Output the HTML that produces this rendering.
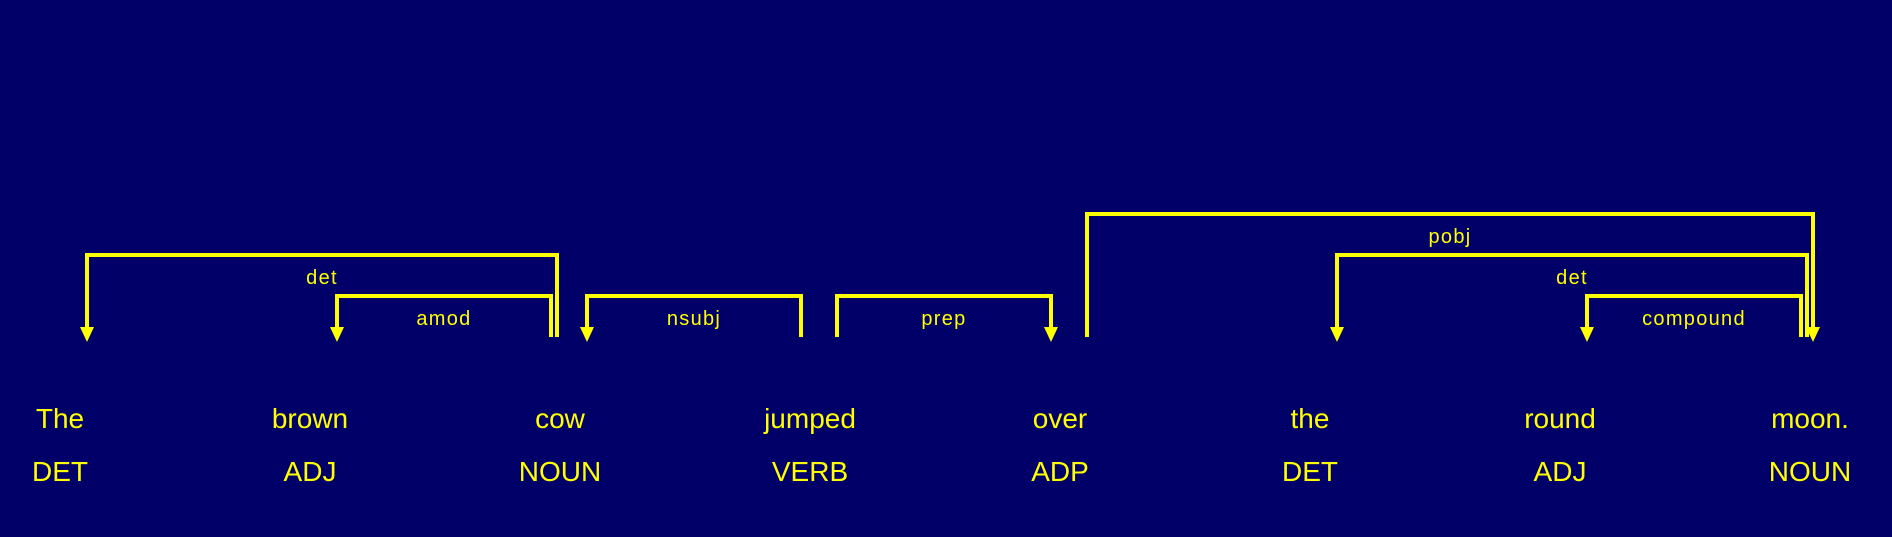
<!DOCTYPE html>
<html><head><meta charset="utf-8"><style>
html,body{margin:0;padding:0;background:#000068;}
svg{display:block;}
text{font-family:"Liberation Sans",Arial,sans-serif;fill:#ffff00;}
</style></head><body>
<svg id="chart" width="1892" height="537" viewBox="0 0 1892 537" xmlns="http://www.w3.org/2000/svg">
<rect width="1892" height="537" fill="#000068"/>
</svg>
<script>
const words = ["The","brown","cow","jumped","over","the","round","moon."];
const tags = ["DET","ADJ","NOUN","VERB","ADP","DET","ADJ","NOUN"];
const arcStart = [0,1,2,3,4,5,6];
const arcEnd = [2,2,3,4,7,7,7];
const arcLabel = ["det","amod","nsubj","prep","pobj","det","compound"];
const arcDir = ["left","left","left","right","right","left","left"];
const arcLevel = [2,1,1,1,3,2,1];

const svg = document.getElementById('chart');
const NS = "http://www.w3.org/2000/svg";
const xWord = i => 60 + 250*i;
const xArcL = i => 87 + 250*i;
const xArcR = (j,lvl) => 87 + 250*j - 36 + 6*(lvl-1);
const yBase = 337;
const yTop = lvl => 337 - 41*lvl;

words.forEach((w,i)=>{
  const t = document.createElementNS(NS,'text');
  t.setAttribute('x', xWord(i)); t.setAttribute('y', 428);
  t.setAttribute('text-anchor','middle'); t.setAttribute('font-size','28');
  t.textContent = w;
  
  
  svg.appendChild(t);
  const p = document.createElementNS(NS,'text');
  p.setAttribute('x', xWord(i)); p.setAttribute('y', 481);
  p.setAttribute('text-anchor','middle'); p.setAttribute('font-size','28');
  p.textContent = tags[i];
  
  
  svg.appendChild(p);
});

arcLabel.forEach((lab,k)=>{
  const lvl = arcLevel[k];
  const x1 = xArcL(arcStart[k]);
  const x2 = xArcR(arcEnd[k], lvl);
  const yt = yTop(lvl);
  const g = document.createElementNS(NS,'g');
  
  
  const path = document.createElementNS(NS,'path');
  path.setAttribute('d', `M${x1},${yBase} L${x1},${yt} L${x2},${yt} L${x2},${yBase}`);
  path.setAttribute('fill','none'); path.setAttribute('stroke','#ffff00'); path.setAttribute('stroke-width','4');
  
  
  g.appendChild(path);
  const ax = arcDir[k]==='left' ? x1 : x2;
  const head = document.createElementNS(NS,'path');
  head.setAttribute('d', `M${ax-7},${yBase-10} L${ax+7},${yBase-10} L${ax},${yBase+5} Z`);
  head.setAttribute('fill','#ffff00');
  
  
  g.appendChild(head);
  const t = document.createElementNS(NS,'text');
  t.setAttribute('x', (x1+x2)/2); t.setAttribute('y', yt+29);
  t.setAttribute('text-anchor','middle'); t.setAttribute('font-size','20');
  t.setAttribute('letter-spacing','1.3');
  t.textContent = lab;
  
  
  g.appendChild(t);
  svg.appendChild(g);
});
</script>
</body></html>
